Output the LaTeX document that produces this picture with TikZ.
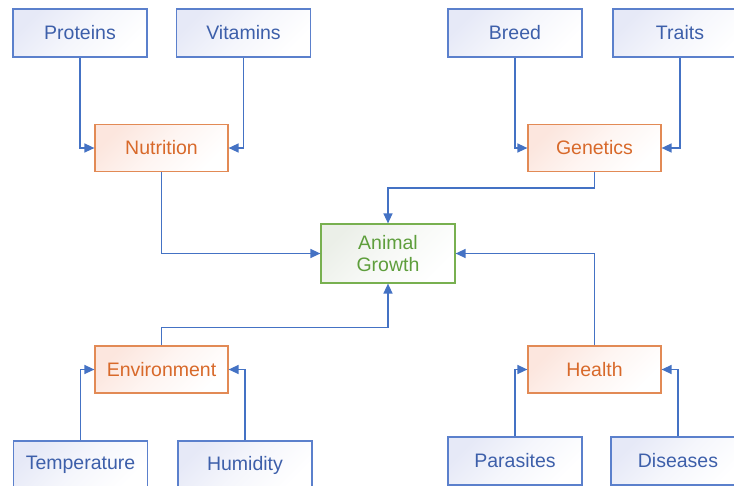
\documentclass[tikz,border=0pt]{standalone}
\usepackage{fontspec}
\setmainfont{Liberation Sans}
\usetikzlibrary{arrows.meta}
\definecolor{bdr}{HTML}{5B80CC}
\definecolor{btx}{HTML}{3D5FAA}
\definecolor{bfl}{HTML}{E6E9F7}
\definecolor{odr}{HTML}{E28A55}
\definecolor{otx}{HTML}{D8692A}
\definecolor{ofl}{HTML}{FCE6DE}
\definecolor{gdr}{HTML}{78B050}
\definecolor{gtx}{HTML}{5E9E3C}
\definecolor{gfl}{HTML}{EBEFE8}
\definecolor{arc}{HTML}{4472C4}
\tikzset{
  x=1pt,y=-1pt,
  base/.style={rectangle, inner sep=0pt, line width=1.2pt, font=\fontsize{19.5}{23}\selectfont, align=center, top color=#1, bottom color=white, middle color=white!60!#1, shading angle=45},
  leaf/.style={base=bfl, draw=bdr, text=btx, minimum width=134pt, minimum height=48pt},
  mid/.style={base=ofl, draw=odr, text=otx, minimum width=133pt, minimum height=47pt},
  core/.style={base=gfl, draw=gdr, text=gtx, minimum width=134pt, minimum height=59pt},
  arr/.style={draw=arc, line width=1.4pt, -{Triangle[length=10pt,width=9pt]}}
}
\begin{document}
\begin{tikzpicture}
\useasboundingbox (0,0) rectangle (734,485);
\clip (0,0) rectangle (734,485);
\node[leaf] (proteins) at (80,33) {Proteins};
\node[leaf] (vitamins) at (243.5,33) {Vitamins};
\node[leaf] (breed) at (515,33) {Breed};
\node[leaf] (traits) at (680,33) {Traits};
\node[mid] (nutrition) at (161.5,148) {Nutrition};
\node[mid] (genetics) at (594.5,148) {Genetics};
\node[core] (ag) at (388,253.5) {Animal\\[-1pt]Growth};
\node[mid] (environment) at (161.5,369.5) {Environment};
\node[mid] (health) at (594.5,369.5) {Health};
\node[leaf] (temperature) at (80.5,465) {Temperature};
\node[leaf] (humidity) at (245,465) {Humidity};
\node[leaf] (parasites) at (515,461) {Parasites};
\node[leaf] (diseases) at (678,461) {Diseases};
\draw[arr] (proteins.south) |- (nutrition.west);
\draw[arr] (vitamins.south) |- (nutrition.east);
\draw[arr] (breed.south) |- (genetics.west);
\draw[arr] (traits.south) |- (genetics.east);
\draw[arr] (genetics.south) -- ++(0,16) -| (ag.north);
\draw[arr] (nutrition.south) |- (ag.west);
\draw[arr] (health.north) |- (ag.east);
\draw[arr] (environment.north) -- ++(0,-18) -| (ag.south);
\draw[arr] (temperature.north) |- (environment.west);
\draw[arr] (humidity.north) |- (environment.east);
\draw[arr] (parasites.north) |- (health.west);
\draw[arr] (diseases.north) |- (health.east);
\end{tikzpicture}
\end{document}
